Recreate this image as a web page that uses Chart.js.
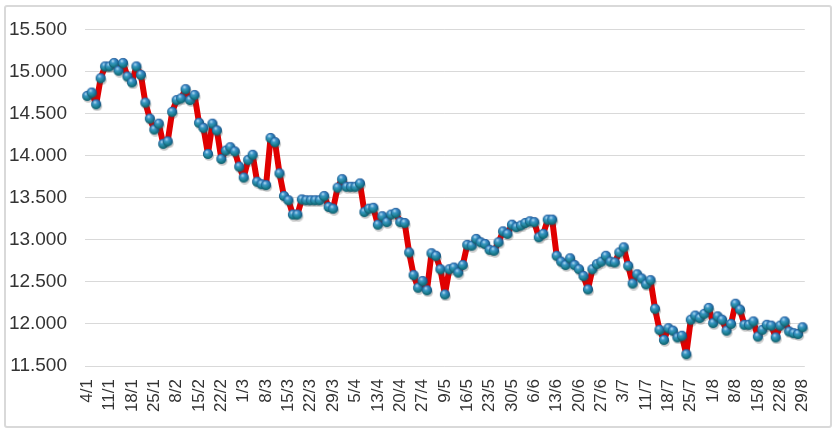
<!DOCTYPE html>
<html>
<head>
<meta charset="utf-8">
<script src="https://cdn.jsdelivr.net/npm/chart.js@4"></script>
<style>
    html, body { margin: 0; padding: 0; background: #fff; }
    #frame {
        position: absolute; left: 4px; top: 5px; width: 824px; height: 419px;
        border: 2px solid #d9d9d9; border-radius: 3px;
    }
    #wrap { position: absolute; left: 0; top: 0; width: 836px; height: 434px; }
</style>
</head>
<body>
<div id="frame"></div>
<div id="wrap"><canvas id="indexChart" width="836" height="434"></canvas></div>
<script>
// one label every 5 sessions
const tickLabels = ['4/1', '11/1', '18/1', '25/1', '8/2', '15/2', '22/2', '1/3', '8/3', '15/3',
    '22/3', '29/3', '5/4', '13/4', '20/4', '27/4', '9/5', '16/5', '23/5', '30/5', '6/6',
    '13/6', '20/6', '27/6', '3/7', '11/7', '18/7', '25/7', '1/8', '8/8', '15/8', '22/8', '29/8'];
const perLabel = 5;

const values = [
    14710, 14750, 14610, 14920, 15060, 15060, 15100, 15010, 15100, 14940,
    14870, 15060, 14960, 14630, 14440, 14310, 14380, 14140, 14170, 14520,
    14660, 14680, 14790, 14660, 14720, 14390, 14330, 14020, 14380, 14300,
    13960, 14060, 14100, 14050, 13870, 13740, 13950, 14010, 13690, 13660,
    13650, 14210, 14160, 13790, 13520, 13470, 13300, 13300, 13480, 13470,
    13470, 13470, 13470, 13520, 13390, 13370, 13620, 13720, 13630, 13630,
    13630, 13670, 13330, 13370, 13380, 13180, 13280, 13210, 13300, 13320,
    13210, 13200, 12850, 12580, 12430, 12510, 12400, 12840, 12810, 12650,
    12350, 12650, 12670, 12610, 12700, 12940, 12930, 13010, 12970, 12950,
    12880, 12870, 12970, 13100, 13070, 13180, 13150, 13170, 13200, 13220,
    13210, 13030, 13070, 13240, 13240, 12810, 12740, 12700, 12780, 12700,
    12650, 12570, 12410, 12650, 12710, 12740, 12810, 12740, 12730, 12850,
    12910, 12690, 12480, 12590, 12540, 12470, 12520, 12180, 11930, 11810,
    11950, 11920, 11840, 11860, 11640, 12050, 12100, 12070, 12120, 12190,
    12010, 12090, 12050, 11920, 12000, 12240, 12170, 11990, 11990, 12030,
    11850, 11930, 11990, 11980, 11840, 11980, 12030, 11910, 11890, 11880,
    11960
];

const yMin = 11500, yMax = 15500, yStep = 500;

// category list: a date label on every 5th session, blank in between
const categories = values.map((v, i) => i % perLabel === 0 ? tickLabels[i / perLabel] : '');

// 3D-looking ball marker
function makeBall() {
    const c = document.createElement('canvas');
    c.width = 14; c.height = 14;
    const g = c.getContext('2d');
    const cx = 7, cy = 7, r = 5;
    // soft shadow
    g.fillStyle = 'rgba(60,60,60,0.28)';
    g.beginPath(); g.ellipse(cx + 1, cy + 2.2, r, r * 0.9, 0, 0, Math.PI * 2); g.fill();
    // body
    const lin = g.createLinearGradient(0, cy - r, 0, cy + r);
    lin.addColorStop(0, '#2f6fc4');
    lin.addColorStop(0.5, '#1f84b0');
    lin.addColorStop(1, '#1fa08e');
    g.fillStyle = lin;
    g.beginPath(); g.arc(cx, cy, r, 0, Math.PI * 2); g.fill();
    // highlight
    const rad = g.createRadialGradient(cx - 1.2, cy - 2, 0.3, cx - 1, cy - 1.5, r);
    rad.addColorStop(0, 'rgba(210,240,255,0.8)');
    rad.addColorStop(0.45, 'rgba(120,200,235,0.2)');
    rad.addColorStop(1, 'rgba(0,40,80,0.3)');
    g.fillStyle = rad;
    g.beginPath(); g.arc(cx, cy, r, 0, Math.PI * 2); g.fill();
    g.strokeStyle = 'rgba(15,60,100,0.45)';
    g.lineWidth = 0.8;
    g.beginPath(); g.arc(cx, cy, r - 0.3, 0, Math.PI * 2); g.stroke();
    return c;
}
const ball = makeBall();

const fmt = v => String(v).replace(/\B(?=(\d{3})+(?!\d))/g, '.');

const ctx = document.getElementById('indexChart').getContext('2d');
const indexChart = new Chart(ctx, {
    type: 'line',
    data: {
        labels: categories,
        datasets: [{
            data: values,
            borderColor: '#e00000',
            borderWidth: 6,
            borderJoinStyle: 'round',
            borderCapStyle: 'round',
            tension: 0,
            fill: false,
            pointStyle: ball,
            pointRadius: 5,
            pointHoverRadius: 5
        }]
    },
    options: {
        responsive: false,
        animation: false,
        layout: { padding: { top: 28, right: 14, left: 0, bottom: 0 } },
        plugins: {
            legend: { display: false },
            tooltip: { enabled: false }
        },
        scales: {
            x: {
                offset: true,
                grid: { display: false, drawTicks: false },
                border: { display: false },
                ticks: {
                    autoSkip: false,
                    minRotation: 90,
                    maxRotation: 90,
                    padding: 13,
                    color: '#333333',
                    font: { family: 'Liberation Sans, Arial, sans-serif', size: 17 }
                },
                afterFit: s => { s.height = 68; }
            },
            y: {
                min: yMin,
                max: yMax,
                grid: { color: '#d9d9d9', lineWidth: 1, drawTicks: false },
                border: { display: false },
                ticks: {
                    stepSize: yStep,
                    padding: 18,
                    color: '#333333',
                    font: { family: 'Liberation Sans, Arial, sans-serif', size: 19 },
                    callback: v => fmt(v)
                },
                afterFit: s => { s.width = 85; }
            }
        }
    }
});
</script>
</body>
</html>
